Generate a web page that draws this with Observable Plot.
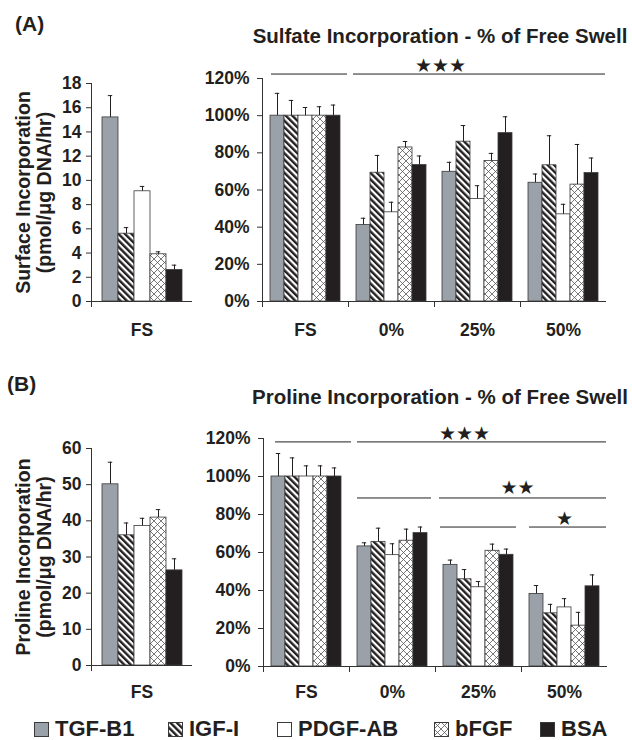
<!DOCTYPE html>
<html>
<head>
<meta charset="utf-8">
<script src="https://cdn.jsdelivr.net/npm/d3@7"></script>
<script src="https://cdn.jsdelivr.net/npm/@observablehq/plot@0.6"></script>
<style>
  body { margin: 0; background: #fff; }
  #root { position: relative; width: 632px; height: 740px; overflow: hidden;
          font-family: "Liberation Sans", Arial, sans-serif; color: #231f20; background: #fff; }
  .abs { position: absolute; }
  .panel { font-weight: bold; font-size: 21px; line-height: 1; white-space: nowrap; }
  .title { font-weight: bold; font-size: 20.5px; line-height: 1; white-space: nowrap; transform: translateX(-50%); }
  .leg { display: flex; align-items: center; font-weight: bold; font-size: 22px; line-height: 1; white-space: nowrap; }
  .leg svg { margin-right: 6px; display: block; }
</style>
</head>
<body>
<svg width="0" height="0" style="position:absolute">
  <defs>
    <pattern id="pIGF" patternUnits="userSpaceOnUse" width="4.6" height="4.6" patternTransform="rotate(-45)">
      <rect width="4.6" height="4.6" fill="#ffffff"></rect>
      <rect width="2.4" height="4.6" fill="#231f20"></rect>
    </pattern>
    <pattern id="pFGF" patternUnits="userSpaceOnUse" width="7" height="7">
      <rect width="7" height="7" fill="#ffffff"></rect>
      <path d="M0,0L7,7M7,0L0,7" stroke="#555" stroke-width="0.8" fill="none"></path>
    </pattern>
  </defs>
</svg>
<div id="root"></div>
<script>
// ---------- data ----------
const series = ["TGF-B1", "IGF-I", "PDGF-AB", "bFGF", "BSA"];
const groups = ["FS", "0%", "25%", "50%"];
const fsGroup = ["FS"];
const fills = ["#9aa1a8", "url(#pIGF)", "#ffffff", "url(#pFGF)", "#231f20"];

// (A) left: surface incorporation (pmol/µg DNA/hr), free swell
const sulfateAbsMean  = [[15.2, 5.6, 9.1, 3.9, 2.6]];
const sulfateAbsUpper = [[17.0, 6.1, 9.5, 4.1, 3.0]];
const sulfateAbsTicks = [0, 2, 4, 6, 8, 10, 12, 14, 16, 18];

// (A) right: sulfate incorporation, % of free swell
const sulfatePctMean = [
  [100, 100, 100, 100, 100],
  [41.2, 69.3, 48.0, 82.9, 73.4],
  [69.8, 86.0, 55.2, 75.6, 90.6],
  [63.9, 73.3, 46.9, 62.9, 69.1]
];
const sulfatePctUpper = [
  [112.0, 108.2, 104.4, 104.8, 105.7],
  [44.8, 78.6, 53.4, 86.1, 78.3],
  [74.9, 94.7, 62.3, 79.7, 99.4],
  [68.6, 89.2, 52.3, 84.5, 77.2]
];

// (B) left: proline incorporation (pmol/µg DNA/hr), free swell
const prolineAbsMean  = [[50.1, 36.0, 38.6, 40.9, 26.3]];
const prolineAbsUpper = [[56.2, 39.4, 40.7, 43.1, 29.5]];
const prolineAbsTicks = [0, 10, 20, 30, 40, 50, 60];

// (B) right: proline incorporation, % of free swell
const prolinePctMean = [
  [100, 100, 100, 100, 100],
  [63.2, 65.6, 58.6, 66.2, 70.2],
  [53.5, 45.9, 41.7, 60.9, 58.8],
  [38.2, 28.0, 31.1, 21.5, 42.2]
];
const prolinePctUpper = [
  [112.1, 109.8, 105.6, 105.6, 104.5],
  [65.1, 72.8, 64.6, 72.3, 73.4],
  [56.0, 51.0, 44.7, 64.4, 61.8],
  [42.6, 32.7, 35.7, 28.5, 48.2]
];
const pctTicks = [0, 20, 40, 60, 80, 100, 120];

// significance brackets (levels in % of free swell)
const sulfateSig = [
  {level: 122.4, from: "FS", to: "FS"},
  {level: 122.4, from: "0%", to: "50%"}
];
const sulfateStars = [{label: "★★★", group: "25%", series: "TGF-B1", level: 126.9}];
const prolineSig = [
  {level: 118.2, from: "FS", to: "FS"},
  {level: 118.2, from: "0%", to: "50%"},
  {level: 88.7, from: "0%", to: "0%"},
  {level: 88.7, from: "25%", to: "50%"},
  {level: 73.4, from: "25%", to: "25%"},
  {level: 73.4, from: "50%", to: "50%"}
];
const prolineStars = [
  {label: "★★★", group: "25%", series: "IGF-I", level: 122.3},
  {label: "★★", group: "25%", series: "BSA", level: 93.8},
  {label: "★", group: "50%", series: "PDGF-AB", level: 77.9}
];

// ---------- layout (styling only) ----------
const sulfateSigInsets = [[9, 1], [5, 1]];
const sulfateStarDx = [-9];
const prolineSigInsets = [[12, -2], [8, 1], [8, 4], [4, 1], [5, 5], [8, 1]];
const prolineStarDx = [0, 11, 0];

const ink = "#231f20";
const root = document.getElementById("root");

function chart(o) {
  const innerH = o.height - o.mT - o.mB;
  const rows = [];
  o.groups.forEach((g, gi) => o.series.forEach((s, si) =>
    rows.push({group: g, series: s, value: o.mean[gi][si], upper: o.upper[gi][si]})));
  const marks = [
    Plot.barY(rows, {fx: "group", x: "series", y: "value", fill: "series", stroke: "#3a3a3a", strokeWidth: 0.8}),
    Plot.ruleX(rows, {fx: "group", x: "series", y1: "value", y2: "upper", stroke: ink, strokeWidth: 1}),
    Plot.tickY(rows, {fx: "group", x: "series", y: "upper", stroke: ink, strokeWidth: 1, insetLeft: o.cap, insetRight: o.cap}),
    Plot.ruleY([0], {stroke: "#333", strokeWidth: 1}),
    Plot.frame({anchor: "left", facetAnchor: "left", stroke: "#333", strokeWidth: 1, insetBottom: -5}),
    Plot.frame({anchor: "left", stroke: "#333", strokeWidth: 1, insetTop: innerH, insetBottom: -5}),
    Plot.axisY({ticks: o.ticks, tickFormat: o.fmt, tickSize: 5, tickPadding: o.tickPad,
      fontSize: 17.5, fontWeight: "bold", stroke: "#333", fill: ink, label: null}),
    Plot.axisFx({anchor: "bottom", tickSize: 0, tickPadding: o.fxPad,
      fontSize: 17.5, fontWeight: "bold", fill: ink, label: null})
  ];
  if (o.ylabel) {
    marks.push(Plot.text([o.ylabel], {text: d => d, frameAnchor: "left", textAnchor: "middle", lineAnchor: "middle",
      rotate: -90, dx: o.ylabelDx, fontSize: 19.5, fontWeight: "bold", lineHeight: 1.08, fill: ink}));
  }
  (o.sig || []).forEach((seg, i) => {
    const a = o.groups.indexOf(seg.from), b = o.groups.indexOf(seg.to);
    for (let k = a; k <= b; k++) {
      marks.push(Plot.ruleY([{group: o.groups[k], level: seg.level}], {
        fx: "group", y: "level", stroke: ink, strokeWidth: 1,
        insetLeft: k === a ? o.sigInsets[i][0] : 0,
        insetRight: k === b ? o.sigInsets[i][1] : 0
      }));
    }
  });
  (o.stars || []).forEach((st, i) => {
    marks.push(Plot.text([st], {fx: "group", x: "series", y: "level", text: "label", dx: o.starDx[i],
      fontSize: 19, fontFamily: "DejaVu Sans", fill: ink}));
  });
  const svg = Plot.plot({
    width: o.width, height: o.height,
    marginLeft: o.mL, marginRight: o.mR, marginTop: o.mT, marginBottom: o.mB,
    fx: {domain: o.groups, padding: 0},
    x: {domain: o.series, paddingInner: 0, paddingOuter: o.outer, axis: null},
    y: {domain: o.yDomain},
    color: {domain: o.series, range: fills},
    style: {fontFamily: "'Liberation Sans', Arial, sans-serif", fontWeight: "bold", color: ink, background: "transparent"},
    marks
  });
  svg.style.position = "absolute";
  svg.style.left = o.left + "px";
  svg.style.top = o.top + "px";
  root.appendChild(svg);
}

// (A) left
chart({left: 0, top: 0, width: 200, height: 345, mL: 91, mR: 8, mT: 83, mB: 44,
  groups: fsGroup, series, mean: sulfateAbsMean, upper: sulfateAbsUpper,
  yDomain: [0, 18], ticks: sulfateAbsTicks, fmt: d => String(d), tickPad: 5, fxPad: 22,
  outer: 0.54, cap: 5.8, ylabel: "Surface Incorporation\n(pmol/μg DNA/hr)", ylabelDx: -58});
// (A) right
chart({left: 200, top: 0, width: 432, height: 345, mL: 61, mR: 25, mT: 78, mB: 44,
  groups, series, mean: sulfatePctMean, upper: sulfatePctUpper,
  yDomain: [0, 120], ticks: pctTicks, fmt: d => d + "%", tickPad: 8, fxPad: 22,
  outer: 0.46, cap: 4.8, sig: sulfateSig, sigInsets: sulfateSigInsets, stars: sulfateStars, starDx: sulfateStarDx});
// (B) left
chart({left: 0, top: 360, width: 200, height: 345, mL: 91, mR: 8, mT: 88, mB: 40,
  groups: fsGroup, series, mean: prolineAbsMean, upper: prolineAbsUpper,
  yDomain: [0, 60], ticks: prolineAbsTicks, fmt: d => String(d), tickPad: 5, fxPad: 20,
  outer: 0.54, cap: 5.8, ylabel: "Proline Incorporation\n(pmol/μg DNA/hr)", ylabelDx: -58});
// (B) right
chart({left: 200, top: 360, width: 432, height: 345, mL: 61, mR: 24, mT: 78, mB: 39,
  groups, series, mean: prolinePctMean, upper: prolinePctUpper,
  yDomain: [0, 120], ticks: pctTicks, fmt: d => d + "%", tickPad: 8, fxPad: 19.5,
  outer: 0.46, cap: 4.8, sig: prolineSig, sigInsets: prolineSigInsets, stars: prolineStars, starDx: prolineStarDx});

// ---------- texts ----------
function addText(cls, txt, left, top) {
  const d = document.createElement("div");
  d.className = "abs " + cls;
  d.textContent = txt;
  d.style.left = left + "px";
  d.style.top = top + "px";
  root.appendChild(d);
}
addText("panel", "(A)", 15, 12.5);
addText("panel", "(B)", 7, 372.5);
addText("title", "Sulfate Incorporation - % of Free Swell", 440, 26);
addText("title", "Proline Incorporation - % of Free Swell", 440, 386.5);

// ---------- legend ----------
const legendX = [34, 168, 277, 434, 540];
series.forEach((s, i) => {
  const item = document.createElement("div");
  item.className = "abs leg";
  item.style.left = legendX[i] + "px";
  item.style.top = "718px";
  const sw = document.createElementNS("http://www.w3.org/2000/svg", "svg");
  sw.setAttribute("width", 15); sw.setAttribute("height", 15);
  const r = document.createElementNS("http://www.w3.org/2000/svg", "rect");
  r.setAttribute("x", 0.5); r.setAttribute("y", 0.5); r.setAttribute("width", 14); r.setAttribute("height", 14);
  r.setAttribute("fill", fills[i]); r.setAttribute("stroke", "#3a3a3a"); r.setAttribute("stroke-width", 1);
  sw.appendChild(r);
  item.appendChild(sw);
  const t = document.createElement("span");
  t.textContent = s;
  item.appendChild(t);
  root.appendChild(item);
});
</script>
</body>
</html>
